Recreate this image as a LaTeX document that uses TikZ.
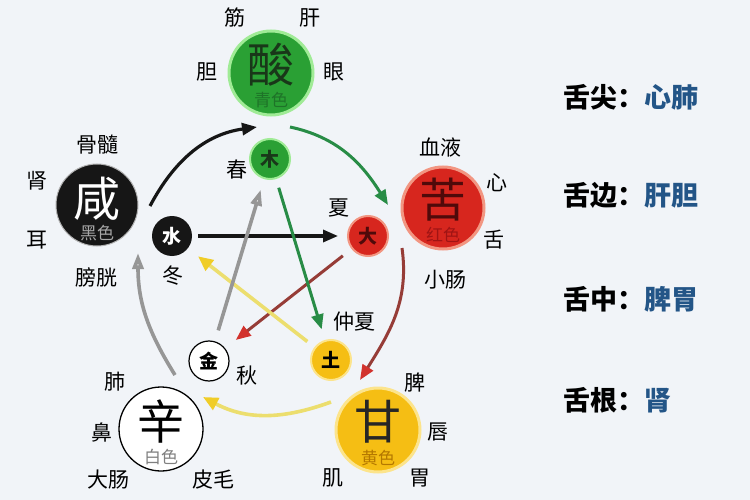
\documentclass[tikz,border=0pt]{standalone}
\usepackage{fontspec}
\setmainfont{Noto Sans CJK SC}
\usetikzlibrary{arrows.meta}
\definecolor{bg}{RGB}{241,244,248}
\definecolor{gfill}{RGB}{42,160,52}
\definecolor{gglow}{RGB}{160,235,150}
\definecolor{gtext}{RGB}{25,55,25}
\definecolor{gsub}{RGB}{30,115,40}
\definecolor{rfill}{RGB}{215,38,30}
\definecolor{rglow}{RGB}{242,150,130}
\definecolor{rtext}{RGB}{80,10,10}
\definecolor{rsub}{RGB}{160,20,20}
\definecolor{yfill}{RGB}{245,190,20}
\definecolor{yglow}{RGB}{252,228,140}
\definecolor{ysub}{RGB}{180,120,0}
\definecolor{kfill}{RGB}{22,22,22}
\definecolor{garr}{RGB}{40,140,70}
\definecolor{rline}{RGB}{150,60,55}
\definecolor{rhead}{RGB}{210,50,45}
\definecolor{yline}{RGB}{236,222,110}
\definecolor{yhead}{RGB}{240,205,40}
\definecolor{grarr}{RGB}{150,150,150}
\definecolor{blu}{RGB}{35,85,135}
\begin{document}
\begin{tikzpicture}[x=1pt,y=1pt,
  ball/.style={circle,inner sep=0pt,outer sep=0pt,minimum size=#1},
  bigch/.style={inner sep=0pt,font=\fontsize{47}{47}\selectfont},
  subch/.style={inner sep=0pt,font=\fontsize{17}{17}\selectfont},
  midch/.style={font=\fontsize{19}{19}\selectfont\bfseries},
  lab/.style={inner sep=0pt,font=\fontsize{21}{21}\selectfont},
  side/.style={inner sep=0pt,anchor=west,font=\fontsize{27}{27}\selectfont\bfseries},
  tipk/.style={-{Triangle[length=15pt,width=12pt]}},
  tipopen/.style={-{Triangle[open,fill=white,length=16pt,width=11pt]}},
  tipred/.style={-{Triangle[length=15pt,width=12pt,color=rhead]}},
  tipyel/.style={-{Triangle[length=15pt,width=13pt,color=yhead]}}
]
\fill[bg] (0,0) rectangle (750,-500);
\useasboundingbox (0,0) rectangle (750,-500);

% big circles
\node[ball=84,fill=gfill,draw=gglow,line width=3pt] (sour) at (271,-73) {};
\node[bigch,text=gtext] (sourT) at ([yshift=8]sour.center) {酸};
\node[subch,text=gsub] (sourC) at ([yshift=-27]sour.center) {青色};

\node[ball=82,fill=kfill,draw=gray!60,line width=1pt] (salty) at (97,-205) {};
\node[bigch,text=white] (saltyT) at ([yshift=6]salty.center) {咸};
\node[subch,text=gray!70] (saltyC) at ([yshift=-28]salty.center) {黑色};

\node[ball=82,fill=rfill,draw=rglow,line width=3pt] (bitter) at (443,-208) {};
\node[bigch,text=rtext] (bitterT) at ([yshift=8]bitter.center) {苦};
\node[subch,text=rsub] (bitterC) at ([yshift=-27]bitter.center) {红色};

\node[ball=84,fill=yfill,draw=yglow,line width=3pt] (sweet) at (378,-430) {};
\node[bigch,text=black!85] (sweetT) at ([yshift=8]sweet.center) {甘};
\node[subch,text=ysub] (sweetC) at ([yshift=-28]sweet.center) {黄色};

\node[ball=84,fill=white,draw=black,line width=1.3pt] (pung) at (161,-429) {};
\node[bigch,text=black] (pungT) at ([yshift=8]pung.center) {辛};
\node[subch,text=gray] (pungC) at ([yshift=-28]pung.center) {白色};

% small circles
\node[ball=40,fill=gfill,draw=gglow,line width=2pt,midch,text=gtext] (wood) at (270,-159) {木};
\node[ball=40,fill=kfill,midch,text=white] (water) at (172,-236) {水};
\node[ball=40,fill=rfill,draw=rglow,line width=2pt,midch,text=rtext] (fire) at (368,-236) {大};
\node[ball=40,fill=yfill,draw=yglow,line width=2pt,midch,text=black] (earth) at (331,-360) {土};
\node[ball=40,fill=white,draw=black,line width=1.2pt,midch,text=black] (metal) at (209,-361) {金};

% labels
\node[lab] (l1) at (235,-18) {筋};
\node[lab] (l2) at (310,-18) {肝};
\node[lab] (l3) at (207,-72) {胆};
\node[lab] (l4) at (334,-72) {眼};
\node[lab] (l5) at (237,-170) {春};
\node[lab] (l6) at (97,-145) {骨髓};
\node[lab] (l7) at (37,-181) {肾};
\node[lab] (l8) at (37,-240) {耳};
\node[lab] (l9) at (96,-277) {膀胱};
\node[lab] (l10) at (173,-276) {冬};
\node[lab] (l11) at (440,-147) {血液};
\node[lab] (l12) at (497,-183) {心};
\node[lab] (l13) at (494,-240) {舌};
\node[lab] (l14) at (445,-280) {小肠};
\node[lab] (l15) at (339,-208) {夏};
\node[lab] (l16) at (354,-322) {仲夏};
\node[lab] (l17) at (247,-376) {秋};
\node[lab] (l18) at (415,-383) {脾};
\node[lab] (l19) at (438,-432) {唇};
\node[lab] (l20) at (420,-478) {胃};
\node[lab] (l21) at (333,-478) {肌};
\node[lab] (l22) at (115,-382) {肺};
\node[lab] (l23) at (102,-432) {鼻};
\node[lab] (l24) at (108,-480) {大肠};
\node[lab] (l25) at (213,-480) {皮毛};

% side column
\node[side] (s1) at (563,-97) {舌尖：\textcolor{blu}{心肺}};
\node[side] (s2) at (563,-195) {舌边：\textcolor{blu}{肝胆}};
\node[side] (s3) at (563,-299) {舌中：\textcolor{blu}{脾胃}};
\node[side] (s4) at (563,-400) {舌根：\textcolor{blu}{肾}};

% outer cycle
\draw[tipk,line width=3.2pt,kfill] ([shift={(53,-1)}]salty.center) to[out=62,in=188] ([shift={(-14,-54)}]sour.center);
\draw[tipk,line width=3pt,garr] ([shift={(19,-54)}]sour.center) to[out=-12,in=122] ([shift={(-55,3)}]bitter.center);
\draw[tipred,line width=3pt,rline] ([shift={(-41,-40)}]bitter.center) to[out=-82,in=58] ([shift={(-18,50)}]sweet.center);
\draw[tipyel,line width=3.6pt,yline] ([shift={(-47,28)}]sweet.center) to[out=200,in=-28] ([shift={(42,32)}]pung.center);
\draw[tipopen,line width=3.6pt,grarr] ([shift={(14,54)}]pung.center) to[out=122,in=-90] ([shift={(41,-48)}]salty.center);

% inner star
\draw[tipk,line width=3.2pt,kfill,shorten <=6pt,shorten >=10pt] (water) -- (fire);
\draw[tipred,line width=3pt,rline,shorten <=12pt,shorten >=14pt] (fire) -- (metal);
\draw[tipk,line width=3pt,garr,shorten <=10pt,shorten >=12pt] (wood) -- (earth);
\draw[tipyel,line width=3.6pt,yline,shorten <=10pt,shorten >=13pt] (earth) -- (water);
\draw[tipopen,line width=3.6pt,grarr,shorten <=12pt,shorten >=12pt] (metal) -- (wood);
\end{tikzpicture}
\end{document}
